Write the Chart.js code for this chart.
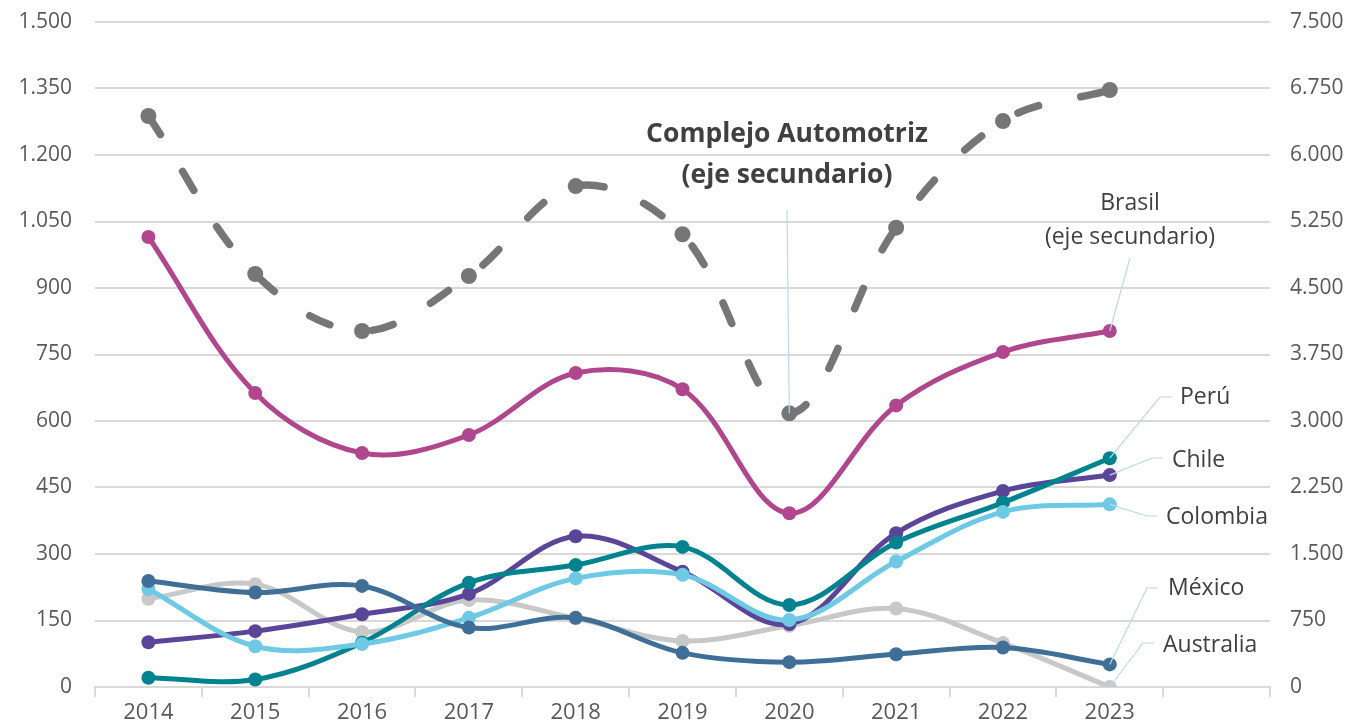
<!DOCTYPE html>
<html lang="es">
<head>
<meta charset="utf-8">
<title>Complejo Automotriz</title>
<script src="https://cdn.jsdelivr.net/npm/chart.js"></script>
<style>
  html,body{margin:0;padding:0;background:#fff;}
  #wrap{width:1350px;height:728px;}
</style>
</head>
<body>
<div id="wrap"><canvas id="myChart" width="1350" height="728"></canvas></div>
<script>
/* ── data ─────────────────────────────────────────── */
const years      = ['2014','2015','2016','2017','2018','2019','2020','2021','2022','2023',''];
// eje secundario
const automotriz = [6440, 4658, 4015, 4635, 5650, 5106, 3087, 5180, 6383, 6733];
const brasil     = [5075, 3316, 2639, 2842, 3541, 3358, 1959, 3176, 3778, 4015];
// eje principal
const peru       = [21, 17, 100, 235, 275, 316, 185, 326, 416, 516];
const chile      = [101, 126, 164, 210, 340, 260, 142, 347, 442, 478];
const colombia   = [221, 92, 97, 156, 245, 253, 151, 283, 395, 412];
const mexico     = [239, 213, 228, 134, 156, 77, 56, 74, 89, 51];
const australia  = [199, 232, 124, 196, 155, 104, 138, 177, 99, 0];

const FONT = "'Open Sans', sans-serif";
const TXT  = '#404040';
const LEAD = '#bdd7ee';

const fmt = v => String(v).replace(/\B(?=(\d{3})+(?!\d))/g, '.');

function line(label, data, color, axis, extra){
  return Object.assign({
    label, data, yAxisID: axis,
    borderColor: color, backgroundColor: color,
    pointBackgroundColor: color, pointBorderWidth: 0,
    borderWidth: 5, pointRadius: 7, tension: 0.35, fill: false
  }, extra || {});
}

/* ── callout labels (drawn after the lines) ───────── */
// ds = dataset index, idx = point the leader goes to
const callouts = [
  {ds:1, idx:6, lines:['Complejo Automotriz','(eje secundario)'], bold:true, size:26.5,
   x:787, y:[134,175], align:'center', path:[[787,210]]},
  {ds:0, idx:9, lines:['Brasil','(eje secundario)'], size:23,
   x:1130, y:[203,237], align:'center', path:[[1130,258]]},
  {ds:4, idx:9, lines:['Perú'], size:23, x:1180, y:[397], align:'left', path:[[1172,397],[1160,397]]},
  {ds:5, idx:9, lines:['Chile'], size:23, x:1172, y:[460], align:'left', path:[[1163,458],[1152,458]]},
  {ds:3, idx:9, lines:['Colombia'], size:23, x:1166, y:[517], align:'left', path:[[1157,516],[1147,516]]},
  {ds:2, idx:9, lines:['México'], size:23, x:1168, y:[588], align:'left', path:[[1158,588],[1147,588]]},
  {ds:6, idx:9, lines:['Australia'], size:23, x:1163, y:[645], align:'left', path:[[1154,643],[1143,643]]}
];

const calloutPlugin = {
  id: 'callouts',
  afterDatasetsDraw(chart){
    const ctx = chart.ctx;
    ctx.save();
    callouts.forEach(c=>{
      const pt = chart.getDatasetMeta(c.ds).data[c.idx];
      ctx.strokeStyle = LEAD;
      ctx.lineWidth = 1.2;
      ctx.beginPath();
      c.path.forEach((p,i)=> i ? ctx.lineTo(p[0],p[1]) : ctx.moveTo(p[0],p[1]));
      ctx.lineTo(pt.x, pt.y);
      ctx.stroke();

      ctx.fillStyle = TXT;
      ctx.font = (c.bold ? 'bold ' : '') + c.size + 'px ' + FONT;
      ctx.textAlign = c.align;
      ctx.textBaseline = 'middle';
      c.lines.forEach((t,i)=> ctx.fillText(t, c.x, c.y[i]));
    });
    ctx.restore();
  }
};

// tick padding would otherwise push the plot down; keep only half a label height
const fitY = w => s => { s.width = w; s.paddingTop = 12; s.paddingBottom = 12; };

/* ── chart ────────────────────────────────────────── */
new Chart(document.getElementById('myChart'), {
  type: 'line',
  data: {
    labels: years,
    datasets: [
      line('Brasil', brasil, '#b0468d', 'y1'),
      line('Complejo Automotriz', automotriz, '#767676', 'y1',
           {borderWidth: 7.5, borderDash: [22, 43], borderCapStyle: 'round', pointRadius: 8}),
      line('México', mexico, '#3f6f97', 'y'),
      line('Colombia', colombia, '#6ecae4', 'y'),
      line('Perú', peru, '#00838f', 'y'),
      line('Chile', chile, '#5a4599', 'y'),
      line('Australia', australia, '#c8c8c8', 'y')
    ]
  },
  options: {
    responsive: false,
    animation: false,
    layout: {padding: {top: 22, right: 0, bottom: 0, left: 0}},
    plugins: {legend: {display: false}, tooltip: {enabled: false}},
    scales: {
      x: {
        offset: true,
        grid: {offset: true, drawOnChartArea: false, drawTicks: true, tickLength: 10,
               color: '#d9d9d9', lineWidth: 2},
        border: {color: '#d9d9d9', width: 2},
        ticks: {color: '#595959', font: {family: FONT, size: 22}, padding: 3,
                maxRotation: 0, autoSkip: false},
        afterFit: s => { s.height = 41; }
      },
      y: {
        position: 'left', min: 0, max: 1500,
        grid: {color: '#d9d9d9', lineWidth: 2, drawTicks: false},
        border: {display: false},
        ticks: {stepSize: 150, color: '#595959', font: {family: FONT, size: 21},
                padding: 23, callback: v => fmt(v)},
        afterFit: fitY(95)
      },
      y1: {
        position: 'right', min: 0, max: 7500,
        grid: {drawOnChartArea: false, drawTicks: false},
        border: {display: false},
        ticks: {stepSize: 750, color: '#595959', font: {family: FONT, size: 21},
                padding: 20, callback: v => fmt(v)},
        afterFit: fitY(80)
      }
    }
  },
  plugins: [calloutPlugin]
});
</script>
</body>
</html>
